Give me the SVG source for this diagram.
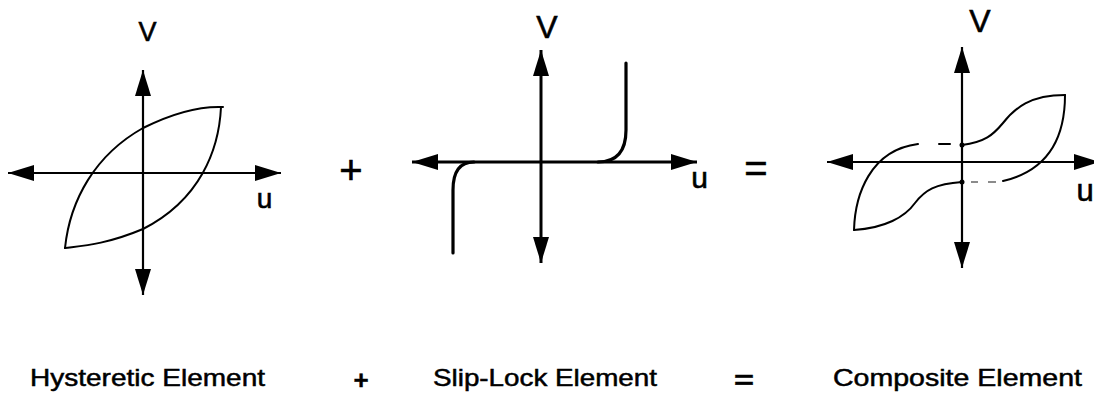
<svg xmlns="http://www.w3.org/2000/svg" width="1094" height="400" viewBox="0 0 1094 400">
<defs>
<style>
.ax{fill:none;stroke:#000;stroke-width:2.2;marker-start:url(#ah);marker-end:url(#ah)}
.ax3{stroke-width:3}
.cv{fill:none;stroke:#000;stroke-width:2;stroke-linecap:round;stroke-linejoin:round}
.cv3{stroke-width:3.2}
.lab{font-family:"Liberation Sans",Arial,sans-serif;fill:#000;text-anchor:middle;stroke:#000;stroke-width:0.6}
.op{font-weight:bold;stroke-width:0.4}
.cap{font-family:"Liberation Sans",Arial,sans-serif;fill:#000;font-size:24px;stroke:#000;stroke-width:0.5}
</style>
<marker id="ah" viewBox="-27 -9 28 18" refX="0" refY="0" markerWidth="28" markerHeight="18" markerUnits="userSpaceOnUse" orient="auto-start-reverse">
<path d="M-26,-8 L0,0 L-26,8 z" fill="#000"/>
</marker>
</defs>
<rect width="1094" height="400" fill="#fff"/>

<g id="panel-hysteretic">
<path class="ax" d="M8,173 L281,173"/>
<path class="ax" d="M143,70 L143,295"/>
<path class="cv" d="M65,248 C70,200 95,155 143,128 C175,112 200,106 223,107"/>
<path class="cv" d="M221,107 C219,150 200,200 143,229 C105,245 80,246 65,248"/>
<text class="lab" x="147.5" y="41" font-size="27">V</text>
<text class="lab" x="264.5" y="208" font-size="28">u</text>
</g>

<g id="op-plus">
<text class="lab" x="351" y="183.5" font-size="40">+</text>
</g>

<g id="panel-sliplock">
<path class="ax ax3" d="M412,162 L697,162"/>
<path class="ax ax3" d="M541,50 L541,263"/>
<path class="cv cv3" d="M626,63 L626,130 C626,152 616,162 598,162"/>
<path class="cv cv3" d="M453,253 L453,190 C453,172 460,162 474,162"/>
<text class="lab" x="547" y="38" font-size="32">V</text>
<text class="lab" x="699.5" y="188" font-size="30">u</text>
</g>

<g id="op-equals">
<text class="lab" x="756" y="182" font-size="40">=</text>
</g>

<g id="panel-composite">
<path class="ax" d="M827,162 L1100,162"/>
<path class="ax" d="M962,47 L962,268"/>
<path class="cv" d="M854,230 C855,195 870,150 918,144"/>
<path class="cv" d="M939,144 L950,144"/>
<path class="cv" d="M962,145 C985,142 993,135 1003,123 C1015,108 1030,95 1065,95"/>
<path class="cv" d="M1065,95 C1065,135 1050,170 1003,181"/>
<path fill="none" stroke="#666" stroke-width="1.6" d="M971,182 L978,182 M988,182 L996,182"/>
<path class="cv" d="M962,182 C935,184 925,190 915,203 C905,217 885,228 854,230"/>
<circle cx="962" cy="145" r="2.5" fill="#000"/>
<circle cx="962" cy="182" r="2.5" fill="#000"/>
<text class="lab" x="980" y="32" font-size="32">V</text>
<text class="lab" x="1085" y="201" font-size="31">u</text>
</g>

<g id="captions">
<text class="cap" x="30" y="386" textLength="235" lengthAdjust="spacingAndGlyphs">Hysteretic Element</text>
<text class="lab op" x="361" y="389" font-size="26">+</text>
<text class="cap" x="433" y="386" textLength="224" lengthAdjust="spacingAndGlyphs">Slip-Lock Element</text>
<text class="lab op" x="744" y="389" font-size="26" textLength="20" lengthAdjust="spacingAndGlyphs">=</text>
<text class="cap" x="833" y="386" textLength="249" lengthAdjust="spacingAndGlyphs">Composite Element</text>
</g>
</svg>
